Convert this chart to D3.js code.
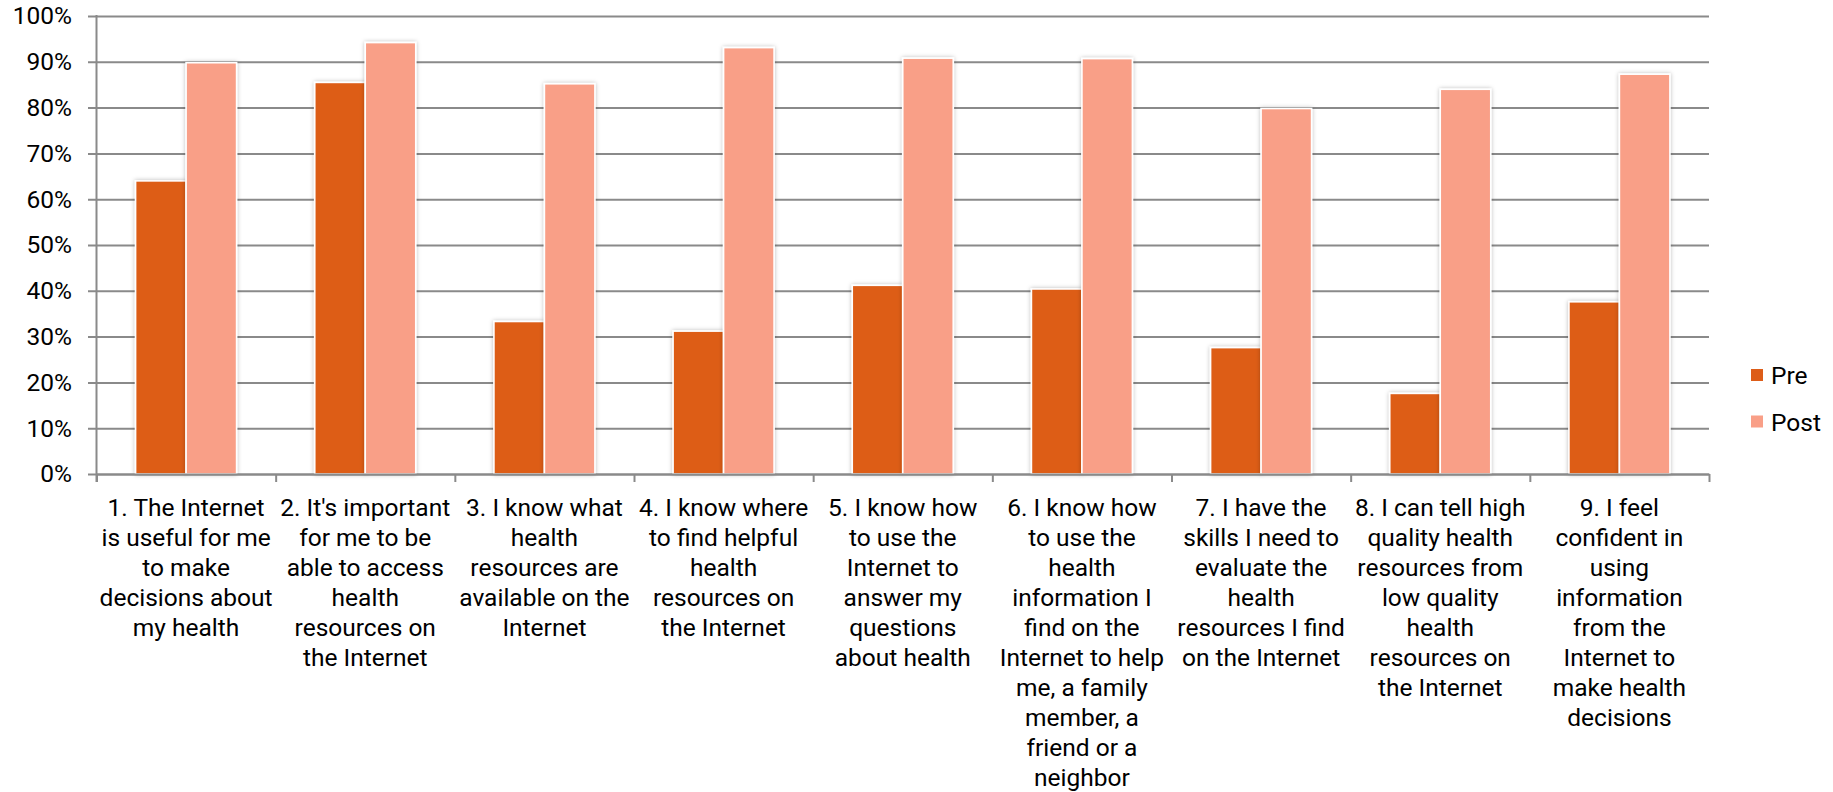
<!DOCTYPE html>
<html>
<head>
<meta charset="utf-8">
<script src="https://cdn.jsdelivr.net/npm/d3@7"></script>
<style>
  html, body { margin: 0; padding: 0; background: #fff; }
  svg { display: block; font-family: Roboto, "Liberation Sans", Arial, sans-serif; }
</style>
</head>
<body>
<svg id="chart" width="1833" height="792"></svg>
<script>
// Survey statements, one array of wrapped lines per category
const categoryLines = [
  ["1. The Internet", "is useful for me", "to make", "decisions about", "my health"],
  ["2. It's important", "for me to be", "able to access", "health", "resources on", "the Internet"],
  ["3. I know what", "health", "resources are", "available on the", "Internet"],
  ["4. I know where", "to find helpful", "health", "resources on", "the Internet"],
  ["5. I know how", "to use the", "Internet to", "answer my", "questions", "about health"],
  ["6. I know how", "to use the", "health", "information I", "find on the", "Internet to help", "me, a family", "member, a", "friend or a", "neighbor"],
  ["7. I have the", "skills I need to", "evaluate the", "health", "resources I find", "on the Internet"],
  ["8. I can tell high", "quality health", "resources from", "low quality", "health", "resources on", "the Internet"],
  ["9. I feel", "confident in", "using", "information", "from the", "Internet to", "make health", "decisions"]
];
const categories = categoryLines.map(l => l.join(" "));

// Share of respondents agreeing (percent)
const preValues  = [64.0, 85.5, 33.3, 31.2, 41.2, 40.4, 27.6, 17.6, 37.6];
const postValues = [89.8, 94.2, 85.2, 93.1, 90.8, 90.7, 79.8, 84.0, 87.3];

const seriesNames = ["Pre", "Post"];
const seriesColors = ["#DD5D18", "#F99F87"];
const yTicks = [0, 10, 20, 30, 40, 50, 60, 70, 80, 90, 100];

const svg = d3.select("#chart");
const plotLeft = 96.5, plotRight = 1709, plotTop = 16, plotBottom = 474;
const fontSize = 24.5;

// Soft shadow around the bars
const defs = svg.append("defs");
const f = defs.append("filter").attr("id", "barShadow")
  .attr("x", "-20%").attr("y", "-10%").attr("width", "140%").attr("height", "120%");
f.append("feDropShadow").attr("dx", 0).attr("dy", 0)
  .attr("stdDeviation", 2).attr("flood-color", "#000").attr("flood-opacity", 0.28);

const x0 = d3.scaleBand().domain(categories).range([plotLeft, plotRight]).paddingInner(0).paddingOuter(0);
const x1 = d3.scaleBand().domain(seriesNames).range([0, x0.bandwidth()]).paddingInner(0).paddingOuter(0.774);
const y = d3.scaleLinear().domain([0, 100]).range([plotBottom, plotTop]);
const xEdges = d3.scaleLinear().domain([0, categories.length]).range([plotLeft, plotRight]);

// Horizontal gridlines (including the outward tick marks on the left)
const grid = svg.append("g").attr("transform", `translate(88,0)`)
  .call(d3.axisLeft(y).tickValues(yTicks).tickSize(-(plotRight - 88)).tickFormat(""));
grid.select(".domain").remove();
grid.selectAll("line").attr("stroke", "#8a8a8a").attr("stroke-width", 2);

// Y tick labels
const yAxis = svg.append("g").attr("transform", `translate(${plotLeft},0)`)
  .call(d3.axisLeft(y).tickValues(yTicks).tickSize(0).tickPadding(24.5).tickFormat(d => d + "%"));
yAxis.select(".domain").remove();
yAxis.selectAll("text").attr("font-size", fontSize).attr("fill", "#000")
  .attr("font-family", "Roboto, 'Liberation Sans', Arial, sans-serif");

// Bars
const groups = svg.append("g").selectAll("g")
  .data(categories.map((c, i) => ({ c, vals: [preValues[i], postValues[i]] })))
  .join("g")
  .attr("transform", d => `translate(${x0(d.c)},0)`);

groups.selectAll("rect")
  .data(d => d.vals.map((v, k) => ({ key: seriesNames[k], v, color: seriesColors[k] })))
  .join("rect")
  .attr("x", d => x1(d.key))
  .attr("width", x1.bandwidth())
  .attr("y", d => y(d.v))
  .attr("height", d => y(0) - y(d.v))
  .attr("fill", d => d.color)
  .attr("stroke", "#fff")
  .attr("stroke-width", 1.6)
  .attr("filter", "url(#barShadow)");

// Axis lines drawn over the bars
svg.append("line").attr("x1", plotLeft).attr("x2", plotLeft).attr("y1", plotTop - 1).attr("y2", plotBottom + 8)
  .attr("stroke", "#8a8a8a").attr("stroke-width", 2);
const xAxis = svg.append("g").attr("transform", `translate(0,${plotBottom})`)
  .call(d3.axisBottom(xEdges).tickValues(d3.range(categories.length + 1))
    .tickSize(8).tickSizeOuter(0).tickFormat(""));
xAxis.select(".domain").attr("stroke", "#8a8a8a").attr("stroke-width", 2);
xAxis.selectAll("line").attr("stroke", "#8a8a8a").attr("stroke-width", 2);

// Category labels
const labels = svg.append("g").selectAll("text")
  .data(categories.map((c, i) => ({ c, lines: categoryLines[i] })))
  .join("text")
  .attr("text-anchor", "middle")
  .attr("font-size", fontSize)
  .attr("fill", "#000")
  .attr("transform", d => `translate(${x0(d.c) + x0.bandwidth() / 2},516)`);
labels.selectAll("tspan")
  .data(d => d.lines)
  .join("tspan")
  .attr("x", 0)
  .attr("y", (d, i) => i * 30)
  .text(d => d);

// Legend
const legend = svg.append("g").selectAll("g")
  .data(seriesNames)
  .join("g")
  .attr("transform", (d, i) => `translate(1751,${369 + i * 46.5})`);
legend.append("rect").attr("width", 12).attr("height", 12)
  .attr("fill", (d, i) => seriesColors[i]);
legend.append("text").attr("x", 20).attr("y", 15)
  .attr("font-size", fontSize).attr("fill", "#000").text(d => d);
</script>
</body>
</html>
